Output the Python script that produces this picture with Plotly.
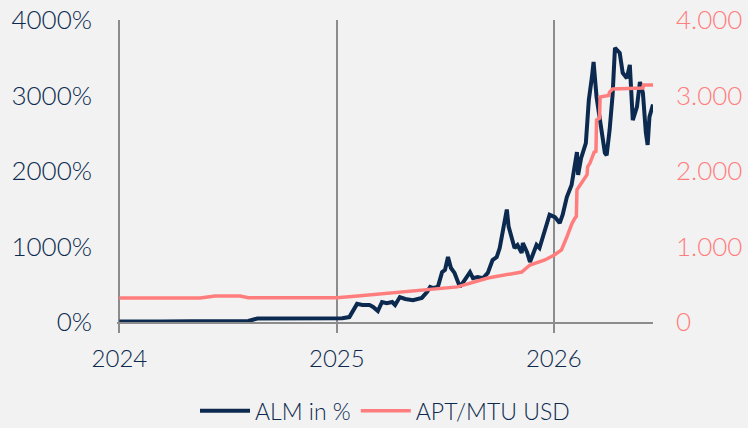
import plotly.graph_objects as go

# ALM in % (left axis)
alm_dates = [
    "2024-01-01", "2024-02-01", "2024-03-15", "2024-05-01", "2024-06-15",
    "2024-08-05", "2024-08-20", "2024-10-01", "2024-11-15", "2024-12-15",
    "2025-01-10", "2025-01-22", "2025-01-30", "2025-02-04", "2025-02-13",
    "2025-02-25", "2025-03-03", "2025-03-11", "2025-03-18", "2025-03-26",
    "2025-04-04", "2025-04-09", "2025-04-17", "2025-04-26", "2025-05-09",
    "2025-05-24", "2025-06-02", "2025-06-07", "2025-06-12", "2025-06-20",
    "2025-06-27", "2025-07-02", "2025-07-07", "2025-07-12", "2025-07-18",
    "2025-07-23", "2025-07-27", "2025-08-04", "2025-08-13", "2025-08-18",
    "2025-08-26", "2025-09-04", "2025-09-12", "2025-09-20", "2025-09-27",
    "2025-10-02", "2025-10-07", "2025-10-14", "2025-10-17", "2025-10-22",
    "2025-10-27", "2025-11-01", "2025-11-08", "2025-11-10", "2025-11-17",
    "2025-11-22", "2025-11-27", "2025-12-03", "2025-12-08", "2025-12-14",
    "2025-12-20", "2025-12-25", "2026-01-03", "2026-01-11", "2026-01-16",
    "2026-01-23", "2026-01-31", "2026-02-04", "2026-02-09", "2026-02-11",
    "2026-02-16", "2026-02-24", "2026-03-01", "2026-03-06", "2026-03-09",
    "2026-03-14", "2026-03-21", "2026-03-28", "2026-03-31", "2026-04-05",
    "2026-04-10", "2026-04-14", "2026-04-22", "2026-04-27", "2026-05-04",
    "2026-05-09", "2026-05-14", "2026-05-21", "2026-05-26", "2026-05-31",
    "2026-06-05", "2026-06-08", "2026-06-11", "2026-06-17",
]
alm_values = [
    5, 10, 5, 10, 8,
    13, 45, 50, 45, 55,
    50, 65, 160, 240, 225,
    225, 200, 145, 265, 250,
    265, 225, 330, 305, 290,
    320, 400, 465, 450, 465,
    660, 690, 860, 715, 650,
    555, 465, 555, 660, 580,
    595, 580, 650, 820, 860,
    980, 1180, 1490, 1265, 1125,
    980, 1020, 915, 1045, 925,
    795, 915, 1020, 980, 1125,
    1285, 1420, 1390, 1310, 1420,
    1655, 1815, 2010, 2250, 1950,
    2170, 2370, 2940, 3230, 3445,
    2980, 2610, 2240, 2210, 2545,
    3005, 3630, 3565, 3300, 3230,
    3405, 2675, 2850, 3180, 3035,
    2505, 2345, 2715, 2880,
]

# APT/MTU USD (right axis)
apt_dates = [
    "2024-01-01", "2024-05-16", "2024-06-10", "2024-07-22", "2024-08-05",
    "2025-01-01", "2025-02-05", "2025-04-10", "2025-07-23", "2025-09-12",
    "2025-11-08", "2025-11-22", "2025-12-17", "2026-01-02", "2026-01-14",
    "2026-01-23", "2026-02-01", "2026-02-06", "2026-02-08", "2026-02-09",
    "2026-02-22", "2026-02-26", "2026-02-27", "2026-03-03", "2026-03-10",
    "2026-03-13", "2026-03-14", "2026-03-19", "2026-03-20", "2026-04-03",
    "2026-04-05", "2026-04-10", "2026-05-31", "2026-06-01", "2026-06-17",
]
apt_values = [
    318, 318, 345, 345, 322,
    322, 345, 393, 465, 583,
    662, 755, 821, 887, 954,
    1126, 1311, 1380, 1400, 1750,
    1910, 1950, 2055, 2105, 2250,
    2260, 2675, 2700, 2980, 3000,
    3045, 3085, 3100, 3140, 3140,
]

NAVY = "#0c2a4f"
PINK = "#ff7d7d"
GRID = "#8c8c8c"
BG = "#f2f2f2"
FONT = "Lato, sans-serif"

fig = go.Figure()

fig.add_trace(go.Scatter(
    x=alm_dates, y=alm_values,
    mode="lines",
    name="ALM in %",
    line=dict(color=NAVY, width=4),
    yaxis="y",
))

fig.add_trace(go.Scatter(
    x=apt_dates, y=apt_values,
    mode="lines",
    name="APT/MTU USD",
    line=dict(color=PINK, width=3.5),
    yaxis="y2",
))

fig.update_layout(
    width=748,
    height=428,
    paper_bgcolor=BG,
    plot_bgcolor=BG,
    font=dict(family=FONT, size=24, color=NAVY, weight=300),
    separators=",.",
    margin=dict(l=117, r=95, t=20, b=106),
    showlegend=True,
    legend=dict(
        orientation="h",
        x=0.5, xanchor="center",
        yref="container",
        y=0.04, yanchor="middle",
        font=dict(size=23, color=NAVY, weight=300),
        bgcolor="rgba(0,0,0,0)",
        itemwidth=50,
    ),
    xaxis=dict(
        type="date",
        # start a few days early so the 2024 gridline is still drawn
        range=["2023-12-28", "2026-06-17"],
        tick0="2024-01-01",
        dtick="M12",
        tickformat="%Y",
        showgrid=True,
        gridcolor=GRID,
        gridwidth=1.5,
        showline=True,
        linecolor=GRID,
        linewidth=1.5,
        ticks="outside",
        ticklen=9,
        tickwidth=1.5,
        tickcolor=GRID,
        ticklabelstandoff=5,
        tickfont=dict(size=24, color=NAVY, weight=300),
        zeroline=False,
        automargin=False,
    ),
    yaxis=dict(
        range=[0, 4000],
        dtick=1000,
        tickformat="d",
        ticksuffix="%",
        showgrid=False,
        zeroline=False,
        showline=False,
        ticklabelstandoff=24,
        ticklabeloverflow="allow",
        tickfont=dict(size=26, color=NAVY, weight=300),
        automargin=False,
    ),
    yaxis2=dict(
        range=[0, 4000],
        dtick=1000,
        tickformat=",d",
        overlaying="y",
        side="right",
        showgrid=False,
        zeroline=False,
        showline=False,
        ticklabelstandoff=22,
        ticklabeloverflow="allow",
        tickfont=dict(size=26, color=PINK, weight=300),
        automargin=False,
    ),
)

# drop the default 8px body margin so the figure fills the window
fig.write_html(
    "out.html",
    config={"displayModeBar": False},
    post_script="document.body.style.margin='0';document.body.style.background='%s';" % BG,
)
